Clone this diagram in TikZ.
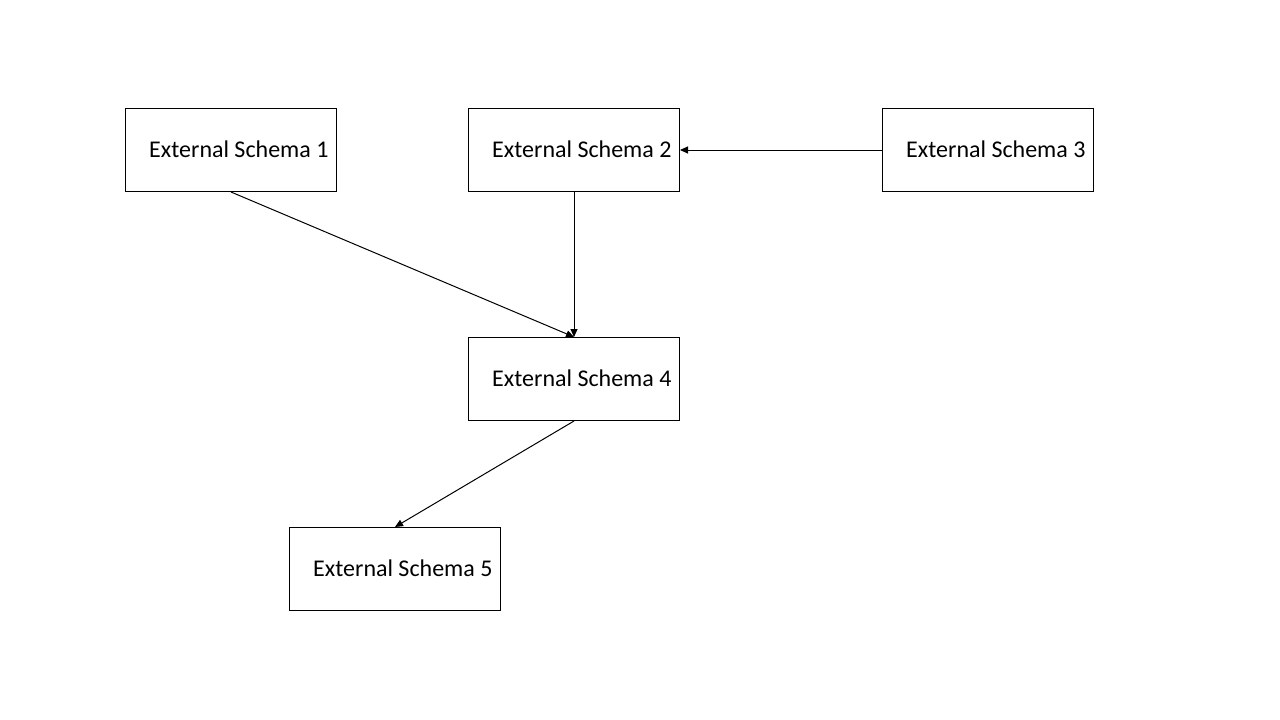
\documentclass[tikz,border=0pt]{standalone}
\usepackage{fontspec}
\setmainfont{Carlito}
\usetikzlibrary{arrows.meta}
\begin{document}
\begin{tikzpicture}[x=1pt,y=-1pt,
  schemabox/.style={draw=black,line width=1pt,minimum width=211pt,minimum height=83pt,inner sep=0pt,anchor=north west},
  schematext/.style={anchor=west,inner sep=0pt,font=\fontsize{24}{28}\selectfont},
  conn/.style={draw=black,line width=1pt,-{Triangle[length=8pt,width=7pt]}}]
\useasboundingbox (0,0) rectangle (1280,720);
\node[schemabox] (b1) at (125,108) {};
\node[schemabox] (b2) at (468,108) {};
\node[schemabox] (b3) at (882,108) {};
\node[schemabox] (b4) at (468,337) {};
\node[schemabox] (b5) at (289,527) {};
\node[schematext] (t1) at ([xshift=24pt,yshift=1pt]b1.west) {External Schema 1};
\node[schematext] (t2) at ([xshift=24pt,yshift=1pt]b2.west) {External Schema 2};
\node[schematext] (t3) at ([xshift=24pt,yshift=1pt]b3.west) {External Schema 3};
\node[schematext] (t4) at ([xshift=24pt,yshift=1pt]b4.west) {External Schema 4};
\node[schematext] (t5) at ([xshift=24pt,yshift=1pt]b5.west) {External Schema 5};
\draw[conn] (b1.south) -- (b4.north);
\draw[conn] (b2.south) -- (b4.north);
\draw[conn] (b3.west) -- (b2.east);
\draw[conn] (b4.south) -- (b5.north);
\end{tikzpicture}
\end{document}
